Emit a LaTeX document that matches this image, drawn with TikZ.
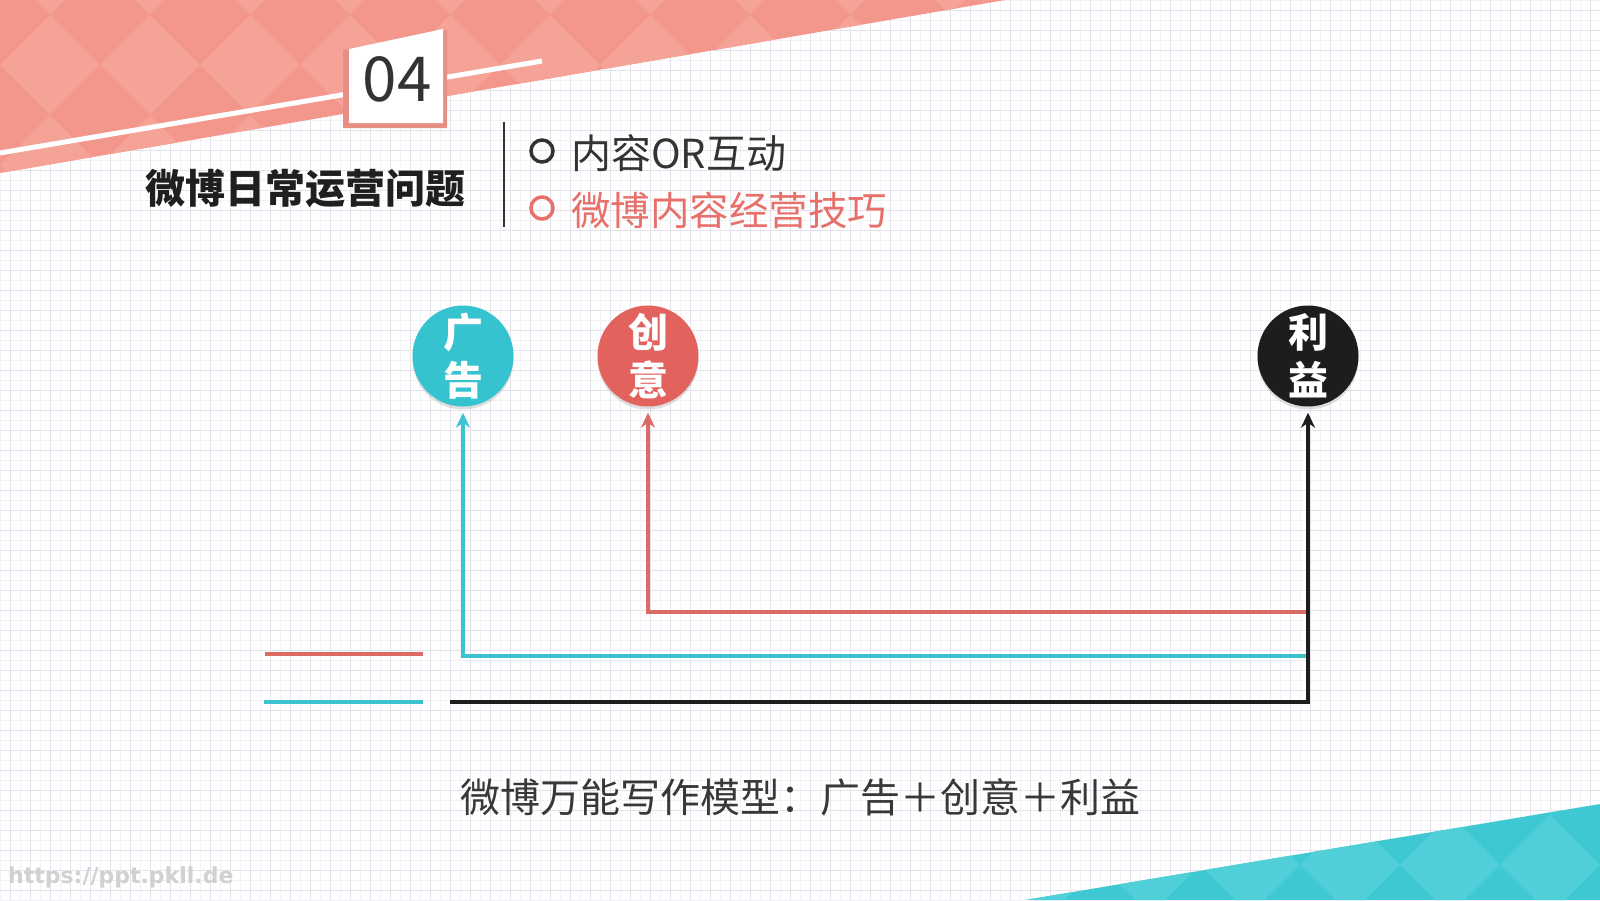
\documentclass[tikz,border=0pt]{standalone}
\usepackage{fontspec}
\usetikzlibrary{arrows.meta,shadows}
\newfontfamily\cjk{Noto Sans CJK SC}
\newfontfamily\wmfont{DejaVu Sans}
\definecolor{pinkA}{HTML}{F3968B}
\definecolor{pinkB}{HTML}{F5A297}
\definecolor{tealA}{HTML}{3EC8D2}
\definecolor{tealB}{HTML}{50CFD8}
\definecolor{ctl}{HTML}{34C3CF}
\definecolor{cred}{HTML}{E2625E}
\definecolor{cblk}{HTML}{1D1D1D}
\definecolor{lnteal}{HTML}{3CC4CE}
\definecolor{lnred}{HTML}{DC6A65}
\definecolor{txtred}{HTML}{E8706A}
\definecolor{txtgray}{HTML}{333333}
\definecolor{gridmaj}{HTML}{E4E2EB}
\definecolor{gridmin}{HTML}{F2F1F5}
\tikzset{
  bub/.style={circle, minimum size=101pt, inner sep=0pt, text=white, align=center,
    font=\cjk\bfseries\fontsize{40}{48}\selectfont,
    drop shadow={shadow xshift=0pt, shadow yshift=-3pt, opacity=0.25}},
  tealln/.style={draw=lnteal, line width=4pt},
  redln/.style={draw=lnred, line width=4pt},
  blkln/.style={draw=cblk, line width=3.5pt},
  tip/.style={-{Stealth[length=15pt,width=14pt]}},
  bullet/.style={circle, draw, line width=3.5pt, minimum size=22pt, inner sep=0pt},
}
\begin{document}
\begin{tikzpicture}[x=1pt,y=-1pt]
\useasboundingbox (0,0) rectangle (1600,900);
\fill[white] (0,0) rectangle (1600,900);
% grid
\foreach \x in {0,10,...,1600} \draw[gridmin, line width=0.6pt] (\x,0) -- (\x,900);
\foreach \y in {0,10,...,900} \draw[gridmin, line width=0.6pt] (0,\y) -- (1600,\y);
\foreach \x in {10,30,...,1590} \draw[gridmaj, line width=0.8pt] (\x,0) -- (\x,900);
\foreach \y in {10,30,...,890} \draw[gridmaj, line width=0.8pt] (0,\y) -- (1600,\y);
% pink band
\begin{scope}
  \clip (0,0) -- (1005,0) -- (0,173) -- cycle;
  \fill[pinkA] (0,0) rectangle (1010,180);
  \foreach \i in {-1,...,10} \foreach \j in {-1,0,1}
    \fill[pinkB] ({50+100*\i},{15+100*\j}) -- ++(50,50) -- ++(-50,50) -- ++(-50,-50) -- cycle;
\end{scope}
% teal corner
\begin{scope}
  \clip (1025,900) -- (1600,804) -- (1600,900) -- cycle;
  \fill[tealA] (1000,780) rectangle (1600,900);
  \foreach \i in {10,...,16} \foreach \j in {7,8}
    \fill[tealB] ({50+100*\i},{15+100*\j}) -- ++(50,50) -- ++(-50,50) -- ++(-50,-50) -- cycle;
\end{scope}
% white stripe and number box
\coordinate (s1) at (0,153);
\coordinate (s2) at (542,61);
\draw[white, line width=5pt] (s1) -- (s2);
\fill[pinkA!95!black] (343,50) -- (447,30) -- (447,128) -- (343,128) -- cycle;
\fill[white] (349,49) -- (443,29) -- (443,123) -- (349,123) -- cycle;
\node[font=\cjk\fontsize{62}{62}\selectfont, text=txtgray] (num) at (397,79) {04};
% heading
\node[font=\cjk\bfseries\fontsize{40}{40}\selectfont, text=black!88] (head) at (305,188) {微博日常运营问题};
\coordinate (sepT) at (504,122);
\coordinate (sepB) at (504,227);
\draw[txtgray, line width=1.3pt] (sepT) -- (sepB);
\node[bullet, draw=txtgray] (b1) at (542,151) {};
\node[bullet, draw=txtred] (b2) at (542,208) {};
\node[anchor=west, font=\cjk\fontsize{40}{40}\selectfont, text=txtgray, inner sep=0pt] (t1) at (571,153) {内容OR互动};
\node[anchor=west, font=\cjk\fontsize{39.5}{40}\selectfont, text=txtred, inner sep=0pt] (t2) at (571,210) {微博内容经营技巧};
% circles
\node[bub, fill=ctl] (ad) at (463,356) {广\\告};
\node[bub, fill=cred] (cy) at (648,356) {创\\意};
\node[bub, fill=cblk] (ly) at (1308,356) {利\\益};
% connectors
\coordinate (rR) at (1308,612);
\coordinate (rL) at (648,612);
\coordinate (tR) at (1308,656);
\coordinate (tL) at (463,656);
\coordinate (kL) at (450,702);
\coordinate (kR) at (1308,702);
\draw[redln, tip] (rR) -- (rL) -- ([yshift=-6pt]cy.south);
\draw[tealln, tip] (tR) -- (tL) -- ([yshift=-6pt]ad.south);
\draw[blkln, tip, line join=miter] (kL) -- (kR) -- ([yshift=-6pt]ly.south);
% legend segments
\coordinate (lr1) at (265,654);
\coordinate (lr2) at (423,654);
\coordinate (lt1) at (264,702);
\coordinate (lt2) at (423,702);
\draw[redln] (lr1) -- (lr2);
\draw[tealln] (lt1) -- (lt2);
% bottom text
\node[font=\cjk\fontsize{40}{40}\selectfont, text=black!78] (formula) at (800,797) {微博万能写作模型：广告＋创意＋利益};
% watermark
\node[anchor=west, font=\wmfont\bfseries\fontsize{22}{22}\selectfont, text=black!18, inner sep=0pt] (wm) at (8,877) {https://ppt.pkll.de};
\end{tikzpicture}
\end{document}
